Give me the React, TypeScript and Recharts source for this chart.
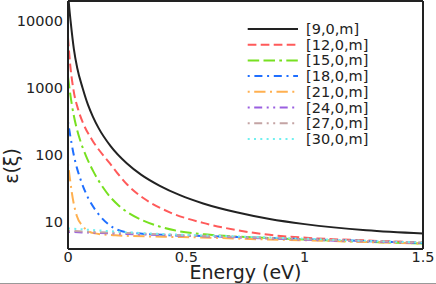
import { Line, LineChart, XAxis, YAxis } from 'recharts'

const FONT = 'DejaVu Sans'
const INK = '#222'

// energies (eV) and epsilon values, one pair per tube
const energy9 = [0, 0.005, 0.011, 0.025, 0.039, 0.062, 0.085, 0.105, 0.13, 0.18, 0.248, 0.31, 0.388, 0.473, 0.571, 0.712, 0.852, 1.0, 1.26, 1.5]
const eps9 = [27000, 16200, 10000, 3800, 2000, 1000, 558, 378, 252, 137, 76, 51, 35, 25.4, 19.1, 14.1, 11.2, 9.4, 7.6, 6.8]

const energy12 = [0, 0.008, 0.022, 0.044, 0.066, 0.1, 0.177, 0.25, 0.318, 0.43, 0.571, 0.712, 0.852, 0.99, 1.25, 1.5]
const eps12 = [5700, 2500, 1000, 468, 289, 174, 75.5, 36.6, 23, 14.1, 9.8, 7.66, 6.5, 5.93, 5.38, 5.02]

const energy15 = [0, 0.008, 0.016, 0.024, 0.035, 0.05, 0.075, 0.107, 0.14, 0.177, 0.215, 0.25, 0.318, 0.38, 0.45, 0.6, 0.8, 1.0, 1.25, 1.5]
const eps15 = [1480, 900, 578, 400, 267, 173, 100, 57.5, 36.5, 24.2, 17.7, 14.2, 10.6, 8.8, 7.6, 6.5, 5.93, 5.53, 5.13, 4.84]

const energy18 = [0, 0.008, 0.022, 0.037, 0.05, 0.079, 0.121, 0.177, 0.25, 0.4, 0.6, 0.8, 1.0, 1.25, 1.5]
const eps18 = [316, 211, 111, 66, 46.8, 25.6, 14.4, 9.0, 7.1, 6.5, 6.2, 5.9, 5.6, 5.26, 4.9]

const energy21 = [0, 0.008, 0.016, 0.037, 0.065, 0.107, 0.2, 0.4, 0.6, 0.8, 1.0, 1.25, 1.5]
const eps21 = [75, 45, 28, 12.5, 8.6, 6.9, 6.4, 6.1, 5.9, 5.6, 5.4, 5.1, 4.8]

const energyFlat = [0, 0.1, 0.25, 0.5, 0.75, 1.0, 1.25, 1.5]
const eps24 = [7.2, 7.0, 6.7, 6.3, 5.9, 5.5, 5.2, 4.9]
const eps27 = [7.5, 7.2, 6.9, 6.4, 6.0, 5.6, 5.3, 5.0]
const eps30 = [8.1, 7.7, 7.1, 6.5, 6.1, 5.7, 5.3, 5.0]

const xMajor = [0, 0.5, 1, 1.5]
const xMinor = [0.25, 0.75, 1.25]
const yMajor = [10, 100, 1000, 10000]
const yMinor = [5, 6, 7, 8, 9, 20, 30, 40, 50, 60, 70, 80, 90, 200, 300, 400, 500, 600, 700, 800, 900,
  2000, 3000, 4000, 5000, 6000, 7000, 8000, 9000, 20000]

const toRows = (xs: number[], ys: number[]) => xs.map((x, i) => ({ x, y: ys[i] }))

const SERIES = [
  { name: '[9,0,m]', rows: toRows(energy9, eps9), color: '#222222', dash: undefined },
  { name: '[12,0,m]', rows: toRows(energy12, eps12), color: '#ff5a5a', dash: '8.7 4.3' },
  { name: '[15,0,m]', rows: toRows(energy15, eps15), color: '#77e020', dash: '11.5 4.3 11.5 4.3 2.7 4.3' },
  { name: '[18,0,m]', rows: toRows(energy18, eps18), color: '#1f6fff', dash: '2 4.7 8 4.7' },
  { name: '[21,0,m]', rows: toRows(energy21, eps21), color: '#ffb050', dash: '2 4.5 11.3 4.5' },
  { name: '[24,0,m]', rows: toRows(energyFlat, eps24), color: '#9a5fe0', dash: '2 4.5 8 4.5 2 4.5' },
  { name: '[27,0,m]', rows: toRows(energyFlat, eps27), color: '#c4a4a4', dash: '2 4.5 8 4.5 2 4.5' },
  { name: '[30,0,m]', rows: toRows(energyFlat, eps30), color: '#70f0f0', dash: '2 4.3' },
]

const frame = { stroke: INK, strokeWidth: 2 }
const tickStroke = { stroke: INK, strokeWidth: 1.2 }

function LegendBox() {
  return (
    <svg width={190} height={135} style={{ position: 'absolute', left: 245, top: 20 }}>
      {SERIES.map((s, i) => {
        const y = 9 + i * 15.7
        return (
          <g key={s.name}>
            <line x1={2.7} x2={53} y1={y} y2={y} stroke={s.color} strokeWidth={2} strokeDasharray={s.dash} />
            <text x={61} y={y} dominantBaseline="central" fontSize={14.5} fontFamily={FONT} fill={INK}>
              {s.name}
            </text>
          </g>
        )
      })}
    </svg>
  )
}

export default function App() {
  return (
    <div style={{ position: 'absolute', left: 0, top: 0, width: 436, height: 284, background: '#fff' }}>
      <LineChart width={436} height={284} margin={{ top: 1, right: 13, bottom: 0, left: 0 }}>
        <XAxis
          xAxisId="x"
          type="number"
          dataKey="x"
          domain={[0, 1.5]}
          allowDataOverflow
          ticks={xMajor}
          interval={0}
          height={35}
          tickLine={false}
          tickSize={0}
          tickMargin={3}
          axisLine={frame}
          tick={{ fill: INK, fontSize: 14.5, fontFamily: FONT }}
          label={(p: any) => (
            <text
              x={p.viewBox.x + p.viewBox.width / 2}
              y={p.viewBox.y + 30}
              textAnchor="middle"
              fontSize={19}
              fontFamily={FONT}
              fill={INK}
            >
              Energy (eV)
            </text>
          )}
        />
        <XAxis xAxisId="xb1" type="number" dataKey="x" domain={[0, 1.5]} allowDataOverflow ticks={xMajor} interval={0}
          mirror height={1} tick={false} tickSize={6} tickLine={tickStroke} axisLine={false} />
        <XAxis xAxisId="xb2" type="number" dataKey="x" domain={[0, 1.5]} allowDataOverflow ticks={xMinor} interval={0}
          mirror height={1} tick={false} tickSize={3.5} tickLine={tickStroke} axisLine={false} />
        <XAxis xAxisId="xt1" orientation="top" type="number" dataKey="x" domain={[0, 1.5]} allowDataOverflow ticks={xMajor}
          interval={0} mirror height={1} tick={false} tickSize={6} tickLine={tickStroke} axisLine={frame} />
        <XAxis xAxisId="xt2" orientation="top" type="number" dataKey="x" domain={[0, 1.5]} allowDataOverflow ticks={xMinor}
          interval={0} mirror height={1} tick={false} tickSize={3.5} tickLine={tickStroke} axisLine={false} />

        <YAxis
          yAxisId="y"
          scale="log"
          domain={[4, 20000]}
          allowDataOverflow
          ticks={yMajor}
          interval={0}
          width={68}
          tickLine={false}
          tickSize={0}
          tickMargin={5}
          axisLine={frame}
          tick={{ fill: INK, fontSize: 14.5, fontFamily: FONT }}
          label={() => (
            <text
              x={11}
              y={166}
              transform="rotate(-90 11 166)"
              textAnchor="middle"
              dominantBaseline="central"
              fontSize={19}
              fontFamily={FONT}
              fill={INK}
            >
              ε(ξ)
            </text>
          )}
        />
        <YAxis yAxisId="yl1" scale="log" domain={[4, 20000]} allowDataOverflow ticks={yMajor} interval={0}
          mirror width={1} tick={false} tickSize={6} tickLine={tickStroke} axisLine={false} />
        <YAxis yAxisId="yl2" scale="log" domain={[4, 20000]} allowDataOverflow ticks={yMinor} interval={0}
          mirror width={1} tick={false} tickSize={3.5} tickLine={tickStroke} axisLine={false} />
        <YAxis yAxisId="yr1" orientation="right" scale="log" domain={[4, 20000]} allowDataOverflow ticks={yMajor}
          interval={0} mirror width={1} tick={false} tickSize={6} tickLine={tickStroke} axisLine={frame} />
        <YAxis yAxisId="yr2" orientation="right" scale="log" domain={[4, 20000]} allowDataOverflow ticks={yMinor}
          interval={0} mirror width={1} tick={false} tickSize={3.5} tickLine={tickStroke} axisLine={false} />

        {SERIES.map((s) => (
          <Line
            key={s.name}
            xAxisId="x"
            yAxisId="y"
            data={s.rows}
            dataKey="y"
            type="monotone"
            stroke={s.color}
            strokeWidth={2}
            strokeDasharray={s.dash}
            dot={false}
            activeDot={false}
            isAnimationActive={false}
          />
        ))}
      </LineChart>
      <LegendBox />
      <div style={{ position: 'absolute', left: 0, top: 283, width: 436, height: 1, background: '#999' }} />
    </div>
  )
}
